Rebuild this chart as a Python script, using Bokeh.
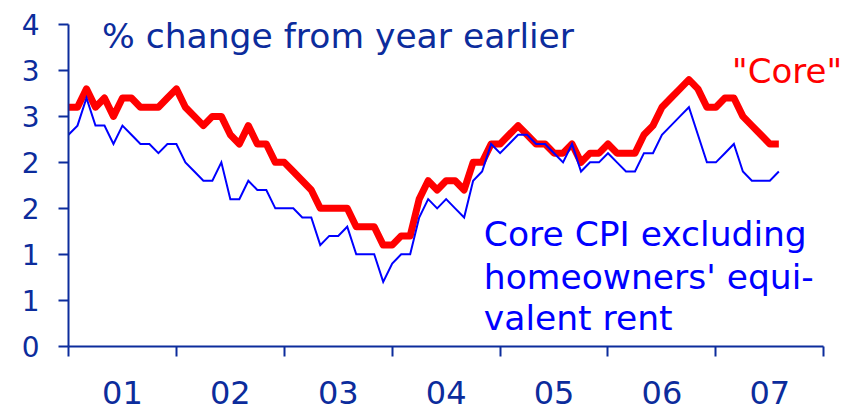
from bokeh.plotting import figure
from bokeh.models import Range1d, FixedTicker, Label, LinearAxis
from bokeh.embed import file_html
from bokeh.resources import INLINE

# Monthly data, Jan 2001 - Aug 2007, % change from year earlier
core = [2.6, 2.6, 2.8, 2.6, 2.7, 2.5, 2.7, 2.7, 2.6, 2.6, 2.6, 2.7,
        2.8, 2.6, 2.5, 2.4, 2.5, 2.5, 2.3, 2.2, 2.4, 2.2, 2.2, 2.0,
        2.0, 1.9, 1.8, 1.7, 1.5, 1.5, 1.5, 1.5, 1.3, 1.3, 1.3, 1.1,
        1.1, 1.2, 1.2, 1.6, 1.8, 1.7, 1.8, 1.8, 1.7, 2.0, 2.0, 2.2,
        2.2, 2.3, 2.4, 2.3, 2.2, 2.2, 2.1, 2.1, 2.2, 2.0, 2.1, 2.1,
        2.2, 2.1, 2.1, 2.1, 2.3, 2.4, 2.6, 2.7, 2.8, 2.9, 2.8, 2.6,
        2.6, 2.7, 2.7, 2.5, 2.4, 2.3, 2.2, 2.2]
core_ex_oer = [2.3, 2.4, 2.7, 2.4, 2.4, 2.2, 2.4, 2.3, 2.2, 2.2, 2.1, 2.2,
               2.2, 2.0, 1.9, 1.8, 1.8, 2.0, 1.6, 1.6, 1.8, 1.7, 1.7, 1.5,
               1.5, 1.5, 1.4, 1.4, 1.1, 1.2, 1.2, 1.3, 1.0, 1.0, 1.0, 0.7,
               0.9, 1.0, 1.0, 1.4, 1.6, 1.5, 1.6, 1.5, 1.4, 1.8, 1.9, 2.2,
               2.1, 2.2, 2.3, 2.3, 2.2, 2.2, 2.1, 2.0, 2.2, 1.9, 2.0, 2.0,
               2.1, 2.0, 1.9, 1.9, 2.1, 2.1, 2.3, 2.4, 2.5, 2.6, 2.3, 2.0,
               2.0, 2.1, 2.2, 1.9, 1.8, 1.8, 1.8, 1.9]
year_labels = ["01", "02", "03", "04", "05", "06", "07"]
y_ticks = [0, 0.5, 1.0, 1.5, 2.0, 2.5, 3.0, 3.5]
y_tick_labels = ["0", "1", "1", "2", "2", "3", "3", "4"]

months = list(range(len(core)))
n_months = 12 * len(year_labels)

NAVY = "#0c2c9c"
BLUE = "#0000ff"
RED = "#ff0000"
FONT = "DejaVu Sans"

# The frame fills the whole canvas; axes sit at fixed data locations inside it.
p = figure(width=849, height=411, output_backend="svg", toolbar_location=None,
           x_range=Range1d(-7.562, 86.858), y_range=Range1d(-0.7105, 3.7611),
           x_axis_location=None, y_axis_location=None, min_border=0)
p.outline_line_color = None
p.grid.visible = False
p.background_fill_color = "white"
p.border_fill_color = "white"

xaxis = LinearAxis(fixed_location=0, bounds=(0, n_months),
                   ticker=FixedTicker(ticks=[12 * k + 6 for k in range(len(year_labels))],
                                      minor_ticks=[12 * k for k in range(len(year_labels) + 1)]),
                   major_label_overrides={12 * k + 6: lab for k, lab in enumerate(year_labels)})
xaxis.axis_line_color = NAVY
xaxis.axis_line_width = 2
xaxis.major_tick_line_color = None
xaxis.major_tick_out = 0
xaxis.major_tick_in = 0
xaxis.minor_tick_line_color = NAVY
xaxis.minor_tick_line_width = 2
xaxis.minor_tick_out = 10
xaxis.minor_tick_in = 0
xaxis.major_label_standoff = 25
xaxis.major_label_text_font = FONT
xaxis.major_label_text_font_size = "32px"
xaxis.major_label_text_color = NAVY
p.add_layout(xaxis, "below")

yaxis = LinearAxis(fixed_location=0, bounds=(y_ticks[0], y_ticks[-1]),
                   ticker=FixedTicker(ticks=y_ticks),
                   major_label_overrides={t: lab for t, lab in zip(y_ticks, y_tick_labels)})
yaxis.axis_line_color = NAVY
yaxis.axis_line_width = 2
yaxis.major_tick_line_color = NAVY
yaxis.major_tick_line_width = 2
yaxis.major_tick_out = 10
yaxis.major_tick_in = 0
yaxis.minor_tick_line_color = None
yaxis.major_label_standoff = 19
yaxis.major_label_text_font = FONT
yaxis.major_label_text_font_size = "28px"
yaxis.major_label_text_color = NAVY
p.add_layout(yaxis, "left")

p.line(months, core, line_color=RED, line_width=7, line_join="round")
p.line(months, core_ex_oer, line_color=BLUE, line_width=2, line_join="miter")

p.add_layout(Label(x=3.73, y=3.38, text="% change from year earlier", text_font=FONT,
                   text_font_size="34.5px", text_color=NAVY, text_baseline="alphabetic"))
p.add_layout(Label(x=73.8, y=2.99, text='"Core"', text_font=FONT,
                   text_font_size="34px", text_color=RED, text_baseline="alphabetic"))
for txt, yy in [("Core CPI excluding", 1.223), ("homeowners' equi-", 0.758), ("valent rent", 0.309)]:
    p.add_layout(Label(x=46.19, y=yy, text=txt, text_font=FONT,
                       text_font_size="34.5px", text_color=BLUE, text_baseline="alphabetic"))

open("out.html", "w").write(file_html(p, INLINE))
